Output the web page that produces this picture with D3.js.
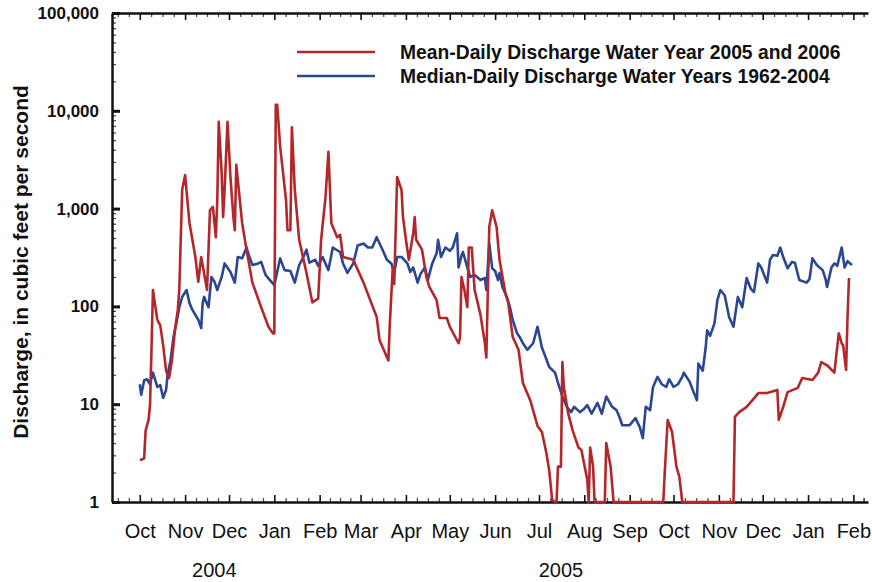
<!DOCTYPE html>
<html>
<head>
<meta charset="utf-8">
<script src="https://cdn.jsdelivr.net/npm/d3@7"></script>
<style>
  body { margin: 0; background: #fff; }
</style>
</head>
<body>
<svg id="chart" width="872" height="582"></svg>
<script>
// day = days after 1 October 2004, cfs = discharge in cubic feet per second
var waterYearStart = new Date(2004, 9, 1);

// Mean-daily discharge, water years 2005 and 2006 (1 = no flow, drawn on the axis)
var meanDaily = [
  [0,2.7],[1,2.7],[3,2.8],[4,5.4],[6,6.9],[7,9.8],[8,36],[9,147],[10,116],[12,73],[14,64],[16,40],
  [18,22],[20,18.5],[22,28],[24,57],[26,92],[27,147],[29,1560],[31,2200],[34,710],[38,320],[40,178],
  [42,320],[46,147],[48,960],[50,1040],[52,510],[53,1230],[54,7700],[56,2300],[57,820],[58,1550],
  [60,7700],[62,2100],[64,820],[65,600],[66,2800],[70,710],[73,380],[77,175],[83,98],[88,62],[91,53],
  [92,53],[93,11500],[94,11500],[96,4300],[98,2300],[100,1220],[101,600],[103,600],[104,6800],
  [106,1560],[109,480],[114,220],[118,110],[122,120],[124,480],[127,1300],[129,3800],[131,710],
  [135,510],[137,540],[139,320],[146,300],[153,175],[162,78],[164,45],[170,28],[171,67],[173,250],
  [174,170],[176,2100],[179,1550],[180,820],[182,480],[184,300],[187,560],[188,820],[189,480],
  [193,380],[196,200],[198,158],[203,116],[205,76],[210,76],[212,62],[218,42],[219,48],[220,200],
  [222,147],[224,98],[225,400],[227,400],[229,147],[233,82],[236,42],[237,30],[239,650],[241,960],
  [244,650],[246,300],[250,137],[252,108],[255,49],[259,36],[262,16.5],[267,11],[272,6],[275,5.2],
  [278,3.2],[280,2.1],[282,1.05],[284,1],[285,1],[286,2.3],[288,2.3],[289,27],[290,15],[293,8],
  [296,5.4],[300,3.6],[302,3.4],[306,1.7],[307,1],[308,3.6],[310,2.3],[311,1],[318,1],[319,4],
  [322,2.3],[324,1],[358,1],[359,2],[361,6.9],[364,5.2],[367,2.3],[369,1.8],[371,1],[406,1],
  [407,7.4],[410,8.3],[415,9.4],[419,11],[423,13],[429,13],[436,14],[437,6.9],[440,9.4],[443,13.3],
  [450,14.7],[453,18.5],[460,17.7],[464,21],[466,27],[470,25],[475,21],[478,53],[480,42],[481,40],
  [483,22.4],[484,78],[485,195]
];

// Median-daily discharge, water years 1962-2004
var medianDaily = [
  [0,16],[1,12.5],[3,17.6],[5,18],[7,16],[9,21],[12,15],[14,15.7],[16,11.6],[18,14],[19,20],[21,28],
  [23,48],[25,67],[27,98],[29,125],[32,147],[34,108],[36,92],[40,73],[42,60],[43,108],[44,125],
  [47,98],[49,200],[51,180],[53,147],[56,200],[58,275],[62,225],[65,175],[67,320],[70,310],[73,400],
  [75,320],[77,265],[81,275],[83,285],[86,210],[89,186],[92,165],[96,310],[99,235],[103,230],
  [106,175],[109,265],[111,300],[114,380],[116,280],[120,300],[122,260],[125,320],[129,235],
  [132,400],[137,360],[139,275],[142,220],[146,275],[149,420],[153,440],[156,400],[159,400],
  [162,510],[166,380],[169,300],[172,275],[174,220],[176,320],[179,320],[183,275],[185,225],
  [187,250],[190,175],[192,215],[195,250],[197,186],[200,275],[203,350],[204,480],[206,320],
  [209,400],[212,370],[214,400],[217,560],[218,250],[220,330],[221,360],[224,250],[226,200],
  [229,210],[233,186],[236,195],[237,147],[239,440],[241,245],[243,230],[245,186],[246,220],
  [248,158],[251,125],[253,100],[255,73],[258,53],[260,48],[262,42],[265,36],[269,42],[272,62],
  [275,38],[278,29],[280,24],[284,21],[286,16.5],[289,12],[292,9.4],[295,8.3],[297,9.4],[301,8.3],
  [304,9],[306,9.8],[309,8],[313,10.3],[316,8],[319,12],[323,9.4],[326,8.7],[328,7.4],[330,6.1],
  [335,6.1],[339,7.2],[342,5.8],[344,4.5],[346,9.4],[349,8.7],[351,15],[354,19],[357,16],[360,15],
  [362,18],[365,15],[368,16],[371,19],[372,21],[376,17],[379,13],[381,11],[382,26],[385,22],
  [387,38],[388,57],[390,50],[393,67],[395,116],[397,147],[400,130],[403,78],[406,62],[409,125],
  [412,98],[415,195],[418,150],[420,140],[423,275],[425,250],[429,175],[431,300],[433,335],
  [436,330],[438,400],[440,320],[443,245],[446,285],[448,280],[451,186],[456,175],[458,190],
  [460,310],[463,265],[467,235],[469,190],[470,158],[473,250],[475,275],[477,260],[480,400],
  [482,250],[484,290],[487,265]
];

var yTickValues = [1, 10, 100, 1000, 10000, 100000];
var yearLabels = ["2004", "2005"];
var yearLabelDates = [new Date(2004, 10, 21), new Date(2005, 6, 16)];
var legendLabels = ["Mean-Daily Discharge Water Year 2005 and 2006",
                    "Median-Daily Discharge Water Years 1962-2004"];
var seriesColors = ["#b3272b", "#2b4791"];

var margin = {top: 13, right: 4, bottom: 80, left: 112};
var width = 872, height = 582;
var font = "'Liberation Sans', Arial, sans-serif";

var svg = d3.select("#chart");

var x = d3.scaleTime()
  .domain([new Date(2004, 8, 12), new Date(2006, 1, 11)])
  .range([margin.left, width - margin.right]);

var y = d3.scaleLog()
  .domain([1, 100000])
  .range([height - margin.bottom, margin.top]);

function toDate(day) {
  return d3.timeDay.offset(waterYearStart, day);
}

// month ticks and quarter-month minor ticks
var monthTicks = d3.timeMonth.range(new Date(2004, 9, 1), new Date(2006, 1, 2));
var minorX = [];
d3.timeMonth.range(new Date(2004, 8, 1), new Date(2006, 1, 2)).forEach(function(m) {
  var next = d3.timeMonth.offset(m, 1);
  [0.25, 0.5, 0.75].forEach(function(f) {
    var t = new Date(+m + f * (next - m));
    if (t > x.domain()[0] && t < x.domain()[1]) minorX.push(t);
  });
});
minorX.push(new Date(2006, 1, 8));

var minorY = [];
yTickValues.slice(0, -1).forEach(function(d) {
  for (var k = 2; k < 10; k++) minorY.push(d * k);
});

// minor ticks first
svg.append("g")
  .attr("transform", "translate(" + margin.left + ",0)")
  .call(d3.axisLeft(y).tickValues(minorY).tickSizeInner(-4).tickSizeOuter(0).tickFormat(""))
  .call(function(g) { g.select(".domain").remove(); })
  .selectAll("line").attr("stroke", "#444").attr("stroke-width", 1.2);

svg.append("g")
  .attr("transform", "translate(0," + (height - margin.bottom) + ")")
  .call(d3.axisBottom(x).tickValues(minorX).tickSizeInner(-4).tickSizeOuter(0).tickFormat(""))
  .call(function(g) { g.select(".domain").remove(); })
  .selectAll("line").attr("stroke", "#444").attr("stroke-width", 1.2);

svg.append("g")
  .attr("transform", "translate(0," + margin.top + ")")
  .call(d3.axisTop(x).tickValues(minorX).tickSizeInner(-4).tickSizeOuter(0).tickFormat(""))
  .call(function(g) { g.select(".domain").remove(); })
  .selectAll("line").attr("stroke", "#444").attr("stroke-width", 1.2);

// major axes
var yAxis = svg.append("g")
  .attr("transform", "translate(" + margin.left + ",0)")
  .call(d3.axisLeft(y).tickValues(yTickValues).tickSizeInner(-8).tickSizeOuter(0)
    .tickPadding(13).tickFormat(d3.format(",")));
yAxis.selectAll("text")
  .attr("font-family", font).attr("font-size", 17).attr("font-weight", "bold").attr("fill", "#111");

var xAxis = svg.append("g")
  .attr("transform", "translate(0," + (height - margin.bottom) + ")")
  .call(d3.axisBottom(x).tickValues(monthTicks).tickSizeInner(-7).tickSizeOuter(0)
    .tickPadding(22).tickFormat(d3.timeFormat("%b")));
xAxis.selectAll("text")
  .attr("font-family", font).attr("font-size", 20).attr("fill", "#111");

var topAxis = svg.append("g")
  .attr("transform", "translate(0," + margin.top + ")")
  .call(d3.axisTop(x).tickValues(monthTicks).tickSizeInner(-7).tickSizeOuter(0).tickFormat(""));

[yAxis, xAxis, topAxis].forEach(function(g) {
  g.select(".domain").attr("stroke", "#111").attr("stroke-width", 2.5);
  g.selectAll(".tick line").attr("stroke", "#111").attr("stroke-width", 1.6);
});
yAxis.selectAll(".tick line").attr("stroke-width", 3);

// year labels
svg.selectAll(".year")
  .data(yearLabels)
  .enter()
  .append("text")
  .attr("class", "year")
  .attr("x", function(d, i) { return x(yearLabelDates[i]); })
  .attr("y", 577)
  .attr("text-anchor", "middle")
  .attr("font-family", font)
  .attr("font-size", 20)
  .attr("fill", "#111")
  .text(function(d) { return d; });

// y axis title
svg.append("text")
  .attr("transform", "translate(28," + 262 + ") rotate(-90)")
  .attr("text-anchor", "middle")
  .attr("font-family", font)
  .attr("font-size", 21)
  .attr("font-weight", "bold")
  .attr("fill", "#111")
  .text("Discharge, in cubic feet per second");

// lines
var line = d3.line()
  .x(function(d) { return x(toDate(d[0])); })
  .y(function(d) { return y(Math.max(1, d[1])); });

svg.append("path")
  .datum(medianDaily)
  .attr("fill", "none")
  .attr("stroke", seriesColors[1])
  .attr("stroke-width", 2.6)
  .attr("stroke-linejoin", "round")
  .attr("d", line);

svg.append("path")
  .datum(meanDaily)
  .attr("fill", "none")
  .attr("stroke", seriesColors[0])
  .attr("stroke-width", 2.6)
  .attr("stroke-linejoin", "round")
  .attr("d", line);

// legend
var legend = svg.append("g").attr("class", "legend");
legendLabels.forEach(function(label, i) {
  var ly = 52 + i * 24;
  legend.append("line")
    .attr("x1", 297).attr("x2", 375)
    .attr("y1", ly).attr("y2", ly)
    .attr("stroke", seriesColors[i])
    .attr("stroke-width", 2.5);
  legend.append("text")
    .attr("x", 400)
    .attr("y", ly)
    .attr("dy", "0.35em")
    .attr("font-family", font)
    .attr("font-size", 19.3)
    .attr("font-weight", "bold")
    .attr("fill", "#111")
    .text(label);
});
</script>
</body>
</html>
